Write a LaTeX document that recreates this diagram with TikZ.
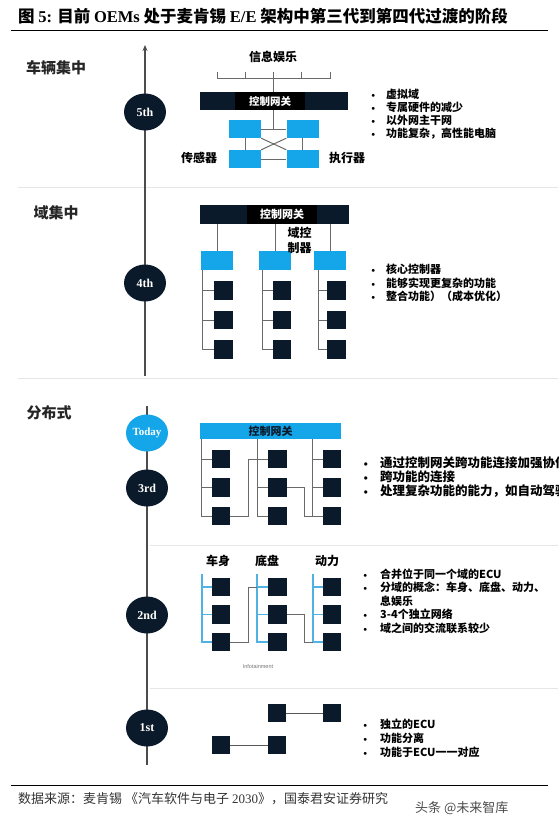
\documentclass[tikz,border=0pt]{standalone}
\usepackage{fontspec}
\newfontfamily\cjk{Noto Sans CJK SC}
\newfontfamily\serif{Liberation Serif}
\newfontfamily\plainsans{Liberation Sans}
\usetikzlibrary{positioning,arrows.meta,shapes.geometric}

\definecolor{navy}{HTML}{0B1A2A}
\definecolor{sky}{HTML}{14A6E9}
\definecolor{skyline}{HTML}{4FB2E3}
\definecolor{wiregray}{HTML}{6A6A6A}
\definecolor{rulegray}{HTML}{E6E6E6}

\newcommand{\bul}[2][19pt]{\makebox[#1][l]{\normalfont\textbullet}#2}

\begin{document}
\begin{tikzpicture}[
    x=1pt, y=-1pt,
    stage/.style = {
        ellipse,
        fill=navy,
        text=white,
        minimum width=42pt,
        minimum height=37pt,
        inner sep=0pt,
        font=\serif\bfseries\fontsize{12}{12}\selectfont
    },
    today/.style = {
        stage,
        fill=sky,
        font=\serif\bfseries\fontsize{11}{11}\selectfont
    },
    phase/.style = {
        inner sep=0pt,
        text=black!85,
        font=\cjk\bfseries\fontsize{15}{18}\selectfont
    },
    tag/.style = {
        inner sep=0pt,
        align=center,
        font=\cjk\bfseries\fontsize{12}{15}\selectfont
    },
    gatebar/.style = {
        rectangle,
        fill=navy,
        inner sep=0pt
    },
    gatelabel/.style = {
        rectangle,
        fill=black,
        text=white,
        inner sep=0pt,
        font=\cjk\bfseries\fontsize{11}{11}\selectfont
    },
    bluebox/.style = {
        rectangle,
        fill=sky,
        minimum width=32pt,
        minimum height=18pt,
        inner sep=0pt
    },
    ecu/.style = {
        rectangle,
        fill=navy,
        minimum size=18.5pt,
        inner sep=0pt
    },
    wire/.style = {
        draw=wiregray,
        line width=1pt
    },
    bus/.style = {
        draw=skyline,
        line width=1.2pt
    },
    timeline/.style = {
        draw=black!70,
        line width=1.6pt
    },
    divider/.style = {
        draw=rulegray,
        line width=0.8pt
    },
    bullets/.style = {
        anchor=west,
        align=left,
        inner sep=0pt,
        font=\cjk\bfseries\fontsize{11}{13.8}\selectfont
    }
]

\useasboundingbox (0,0) rectangle (558,827);
\clip (0,0) rectangle (558,827);

\node (title) [anchor=west, inner sep=0pt, font=\cjk\bfseries\fontsize{16.5}{18}\selectfont] at (18,16) {图 {\serif 5:} 目前 {\serif OEMs} 处于麦肯锡 {\serif E/E} 架构中第三代到第四代过渡的阶段};
\draw [line width=0.8pt] (11,30) -- (548,30);
\draw [line width=0.8pt] (11,785) -- (548,785);
\node (source) [anchor=west, inner sep=0pt, text=black!80, font=\cjk\fontsize{13}{14}\selectfont] at (18,799) {数据来源：麦肯锡 《汽车软件与电子 {\serif 2030}》，国泰君安证券研究};
\node (mark) [anchor=west, inner sep=0pt, text=black!70, font=\cjk\fontsize{13}{15}\selectfont] at (415,808) {头条 @未来智库};

\draw [divider] (18,187) -- (558,187);
\draw [divider] (18,378) -- (558,378);
\draw [divider] (150,545) -- (558,545);
\draw [divider] (150,688) -- (558,688);

\coordinate (tlTop) at (145,45);
\coordinate (tlMid) at (145,376);
\coordinate (tlLow) at (147,406);
\coordinate (tlEnd) at (147,765);
\draw [timeline, -{Stealth[length=6pt, width=5pt]}] (tlMid) -- (tlTop);
\draw [timeline] (tlLow) -- (tlEnd);

\node (g5) [stage] at (145,112) {5th};
\node (g4) [stage] at (145,283) {4th};
\node (now) [today] at (147,433) {Today};
\node (g3) [stage] at (147,488) {3rd};
\node (g2) [stage] at (147,615) {2nd};
\node (g1) [stage] at (147,728) {1st};

\node (vehicle) [phase] at (56,68) {车辆集中};
\node (domain) [phase] at (56,213) {域集中};
\node (distrib) [phase] at (49,413) {分布式};

\node (infotain) [tag] at (273,57) {信息娱乐};
\draw [wire] (217,72) -- (217,78) -- (330,78) -- (330,72);
\draw [wire] (245,72) -- (245,78);
\draw [wire] (301,72) -- (301,78);
\coordinate (hub5) at (273,129);
\draw [wire] (273,72) -- (hub5);
\node (bar5) [gatebar, minimum width=148pt, minimum height=18pt] at (274,101) {};
\node (gw5) [gatelabel, minimum width=70pt, minimum height=18pt, font=\cjk\bfseries\fontsize{10.5}{10.5}\selectfont] at (270,101) {控制网关};
\node (s5a) [bluebox] at (245,129) {};
\node (s5b) [bluebox] at (302.5,129) {};
\node (s5c) [bluebox] at (245,159) {};
\node (s5d) [bluebox] at (302.5,159) {};
\draw [wire] (s5a.east) -- (s5b.west);
\draw [wire] (s5a.south) -- (s5c.north);
\draw [wire] (s5b.south) -- (s5d.north);
\draw [wire] (s5a.south east) -- (s5d.north west);
\draw [wire] (s5b.south west) -- (s5c.north east);
\draw [wire] (s5c.east) -- (s5d.west);
\node (sensor) [tag] at (199,158) {传感器};
\node (actuator) [tag] at (347,158) {执行器};

\node (list5) [bullets, font=\cjk\bfseries\fontsize{11}{13}\selectfont] at (369,114) {\bul[17pt]{虚拟域}\\ \bul[17pt]{专属硬件的减少}\\ \bul[17pt]{以外网主干网}\\ \bul[17pt]{功能复杂，高性能电脑}};

\node (bar4) [gatebar, minimum width=149pt, minimum height=19pt] at (274.5,214.5) {};
\node (gw4) [gatelabel, minimum width=70pt, minimum height=19pt] at (282,214.5) {控制网关};
\node (d4a) [bluebox, minimum height=19pt] at (217,260.5) {};
\node (d4b) [bluebox, minimum height=19pt] at (275,260.5) {};
\node (d4c) [bluebox, minimum height=19pt] at (330,260.5) {};
\draw [wire] (d4a.north) -- (d4a.north |- bar4.south);
\draw [wire] (d4b.north) -- (d4b.north |- bar4.south);
\draw [wire] (d4c.north) -- (d4c.north |- bar4.south);
\node (dctl) [tag] at (299.5,240) {域控\\制器};

\node (e4a1) [ecu] at (223.5,290.5) {};
\node (e4a2) [ecu] at (223.5,320) {};
\node (e4a3) [ecu] at (223.5,349.5) {};
\node (e4b1) [ecu] at (282,290.5) {};
\node (e4b2) [ecu] at (282,320) {};
\node (e4b3) [ecu] at (282,349.5) {};
\node (e4c1) [ecu] at (336.5,290.5) {};
\node (e4c2) [ecu] at (336.5,320) {};
\node (e4c3) [ecu] at (336.5,349.5) {};
\coordinate (b4a) at (202,270);
\coordinate (b4b) at (262,270);
\coordinate (b4c) at (318,270);
\draw [wire] (b4a) |- (e4a3.west);
\draw [wire] (b4a |- e4a1.west) -- (e4a1.west);
\draw [wire] (b4a |- e4a2.west) -- (e4a2.west);
\draw [wire] (b4b) |- (e4b3.west);
\draw [wire] (b4b |- e4b1.west) -- (e4b1.west);
\draw [wire] (b4b |- e4b2.west) -- (e4b2.west);
\draw [wire] (b4c) |- (e4c3.west);
\draw [wire] (b4c |- e4c1.west) -- (e4c1.west);
\draw [wire] (b4c |- e4c2.west) -- (e4c2.west);

\node (list4) [bullets] at (369,283) {\bul[17pt]{核心控制器}\\ \bul[17pt]{能够实现更复杂的功能}\\ \bul[17pt]{整合功能）（成本优化）}};

\node (bar3) [gatebar, fill=sky, minimum width=141pt, minimum height=16pt, text=navy, font=\cjk\bfseries\fontsize{11}{11}\selectfont] at (270.5,431) {控制网关};
\node (e3a1) [ecu] at (221,459) {};
\node (e3a2) [ecu] at (221,487.5) {};
\node (e3a3) [ecu] at (221,516) {};
\node (e3b1) [ecu] at (277.5,459) {};
\node (e3b2) [ecu] at (277.5,487.5) {};
\node (e3b3) [ecu] at (277.5,516) {};
\node (e3c1) [ecu] at (332,459) {};
\node (e3c2) [ecu] at (332,487.5) {};
\node (e3c3) [ecu] at (332,516) {};
\coordinate (b3a) at (201,439);
\coordinate (b3b) at (257,439);
\coordinate (b3c) at (312,439);
\draw [wire] (b3a) |- (e3a3.west);
\draw [wire] (b3a |- e3a1.west) -- (e3a1.west);
\draw [wire] (b3a |- e3a2.west) -- (e3a2.west);
\draw [wire] (b3b) |- (e3b3.west);
\draw [wire] (b3b |- e3b1.west) -- (e3b1.west);
\draw [wire] (b3b |- e3b2.west) -- (e3b2.west);
\draw [wire] (b3c) |- (e3c3.west);
\draw [wire] (b3c |- e3c1.west) -- (e3c1.west);
\draw [wire] (b3c |- e3c2.west) -- (e3c2.west);
\draw [wire] (e3a3.east) -- ++(18,0) |- (b3b |- e3b1.west);
\draw [wire] (e3b2.east) -- ++(18,0) |- (b3c |- e3c3.west);

\node (list3) [bullets, font=\cjk\bfseries\fontsize{12.5}{14}\selectfont] at (361,477) {\bul{通过控制网关跨功能连接加强协作}\\ \bul{跨功能的连接}\\ \bul{处理复杂功能的能力，如自动驾驶}};

\node (body) [tag] at (218,561) {车身};
\node (chassis) [tag] at (267,561) {底盘};
\node (power) [tag] at (327,561) {动力};
\node (e2a1) [ecu] at (221,587) {};
\node (e2a2) [ecu] at (221,614.5) {};
\node (e2a3) [ecu] at (221,642) {};
\node (e2b1) [ecu] at (277.5,587) {};
\node (e2b2) [ecu] at (277.5,614.5) {};
\node (e2b3) [ecu] at (277.5,642) {};
\node (e2c1) [ecu] at (332,587) {};
\node (e2c2) [ecu] at (332,614.5) {};
\node (e2c3) [ecu] at (332,642) {};
\coordinate (b2a) at (202,574);
\coordinate (b2b) at (257,574);
\coordinate (b2c) at (313,574);
\draw [bus] (b2a) |- (e2a3.west);
\draw [bus] (b2a |- e2a1.west) -- (e2a1.west);
\draw [bus] (b2a |- e2a2.west) -- (e2a2.west);
\draw [bus] (b2b) |- (e2b3.west);
\draw [bus] (b2b |- e2b1.west) -- (e2b1.west);
\draw [bus] (b2b |- e2b2.west) -- (e2b2.west);
\draw [bus] (b2c) |- (e2c3.west);
\draw [bus] (b2c |- e2c1.west) -- (e2c1.west);
\draw [bus] (b2c |- e2c2.west) -- (e2c2.west);
\draw [wire] (e2a3.east) -- ++(18,0) |- (b2b |- e2b1.west);
\draw [wire] (e2b2.east) -- ++(18,0) |- (b2c |- e2c3.west);
\node (infot) [inner sep=0pt, text=black!55, font=\plainsans\fontsize{5.5}{6}\selectfont] at (258,667) {Infotainment};

\node (list2) [bullets, font=\cjk\bfseries\fontsize{11}{13.5}\selectfont] at (361,601) {\bul{合并位于同一个域的ECU}\\ \bul{分域的概念：车身、底盘、动力、}\\ \hspace*{19pt}息娱乐\\ \bul{3-4个独立网络}\\ \bul{域之间的交流联系较少}};

\node (e1a) [ecu] at (277,713) {};
\node (e1b) [ecu] at (332,713) {};
\node (e1c) [ecu] at (221,745) {};
\node (e1d) [ecu] at (277,745) {};
\draw [wire, draw=black!65] (e1a) -- (e1b);
\draw [wire, draw=black!65] (e1c) -- (e1d);

\node (list1) [bullets] at (361,738) {\bul{独立的ECU}\\ \bul{功能分离}\\ \bul{功能于ECU一一对应}};

\end{tikzpicture}
\end{document}
